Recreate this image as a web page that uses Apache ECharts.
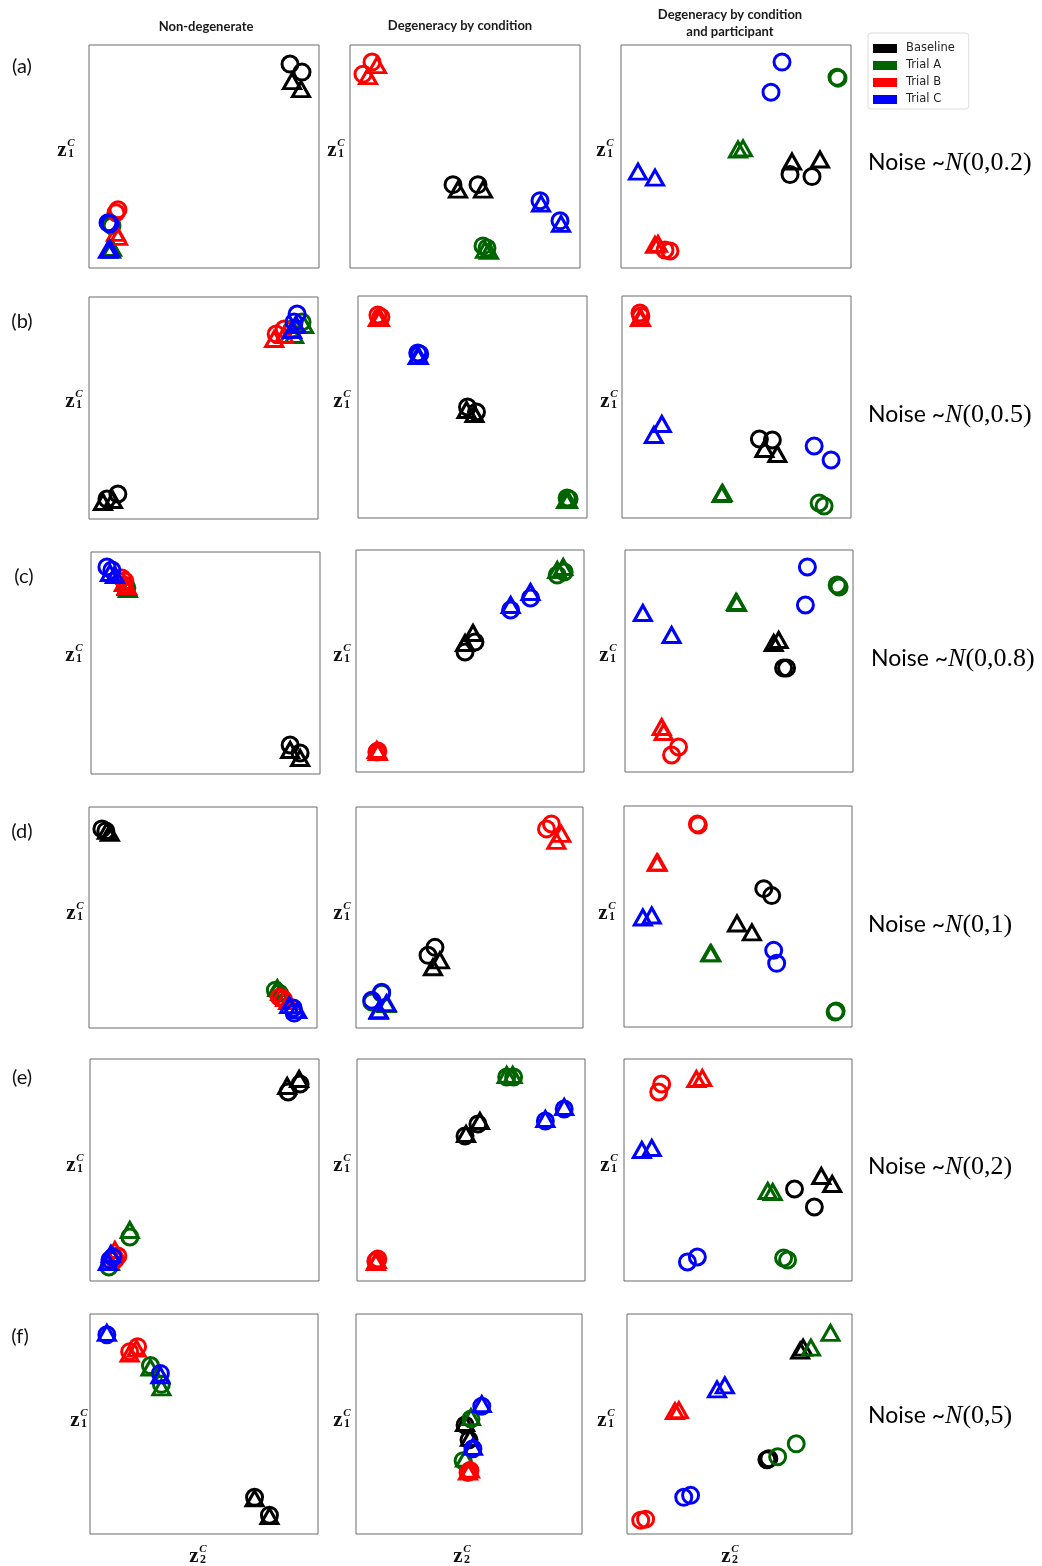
<!DOCTYPE html>
<html><head><meta charset="utf-8">
<script src="https://cdn.jsdelivr.net/npm/echarts@6/dist/echarts.min.js"></script>
<style>html,body{margin:0;padding:0;background:#fff}#c{width:1042px;height:1566px}</style>
</head><body><div id="c"></div>
<script>
// ---------- data ----------
const conditions = ['Baseline', 'Trial A', 'Trial B', 'Trial C'];
const colors = ['#000000', '#006400', '#ff0000', '#0000ff'];
const columnTitles = ['Non-degenerate', 'Degeneracy by condition', 'Degeneracy by condition\nand participant'];
const rowLabels = ['(a)', '(b)', '(c)', '(d)', '(e)', '(f)'];
const noiseParams = ['0,0.2', '0,0.5', '0,0.8', '0,1', '0,2', '0,5'];
// each point: [condition index, shape ('o' circle, '^' triangle), z2, z1]
const a1 = [[0,'o',201,203],[0,'o',213,195],[0,'^',203,186],[0,'^',212,178],[1,'o',23,42],[1,'o',22,44],[1,'^',22,18],[1,'^',23,20],[2,'o',29,58],[2,'o',27,55],[2,'^',29,31],[2,'^',27,35],[3,'o',19,45],[3,'o',21,44],[3,'^',19,18],[3,'^',21,19]];
const a2 = [[0,'o',103,83],[0,'o',128,83],[0,'^',108,78],[0,'^',133,78],[1,'o',133,22],[1,'o',137,20],[1,'^',135,18],[1,'^',139,17],[2,'o',22,205],[2,'o',13,193],[2,'^',27,202],[2,'^',18,191],[3,'o',190,67],[3,'o',210,47],[3,'^',191,64],[3,'^',211,44]];
const a3 = [[0,'o',169,93],[0,'o',191,91],[0,'^',171,106],[0,'^',199,108],[1,'o',216,190],[1,'o',217,189],[1,'^',117,118],[1,'^',122,119],[2,'o',44,18],[2,'o',49,17],[2,'^',34,23],[2,'^',37,24],[3,'o',161,205],[3,'o',150,175],[3,'^',17,96],[3,'^',34,90]];
const b1 = [[0,'o',29,25],[0,'o',18,20],[0,'^',14,17],[0,'^',24,19],[1,'o',204,190],[1,'o',214,197],[1,'^',206,184],[1,'^',216,194],[2,'o',188,185],[2,'o',196,190],[2,'^',186,180],[2,'^',196,184],[3,'o',209,205],[3,'o',206,197],[3,'^',208,194],[3,'^',204,189]];
const b2 = [[0,'o',110,111],[0,'o',119,106],[0,'^',109,108],[0,'^',117,104],[1,'o',210,20],[1,'o',212,19],[1,'^',209,18],[1,'^',211,18],[2,'o',20,203],[2,'o',23,201],[2,'^',20,200],[2,'^',22,200],[3,'o',60,165],[3,'o',62,164],[3,'^',60,162],[3,'^',61,162]];
const b3 = [[0,'o',138,79],[0,'o',151,78],[0,'^',143,69],[0,'^',156,64],[1,'o',198,15],[1,'o',203,12],[1,'^',100,24],[1,'^',101,25],[2,'o',18,205],[2,'o',19,202],[2,'^',18,200],[2,'^',19,200],[3,'o',193,72],[3,'o',210,58],[3,'^',40,94],[3,'^',32,83]];
const c1 = [[0,'o',200,29],[0,'o',210,21],[0,'^',200,24],[0,'^',210,16],[1,'o',36,186],[1,'o',35,188],[1,'^',37,185],[1,'^',36,187],[2,'o',31,196],[2,'o',34,193],[2,'^',33,191],[2,'^',36,188],[3,'o',16,207],[3,'o',21,204],[3,'^',19,201],[3,'^',24,199]];
const c2 = [[0,'o',110,120],[0,'o',120,130],[0,'^',110,129],[0,'^',118,139],[1,'o',203,197],[1,'o',210,200],[1,'^',203,202],[1,'^',209,205],[2,'o',21,20],[2,'o',22,21],[2,'^',21,22],[2,'^',22,20],[3,'o',156,162],[3,'o',176,174],[3,'^',156,167],[3,'^',176,180]];
const c3 = [[0,'o',160,104],[0,'o',163,104],[0,'^',150,129],[0,'^',155,132],[1,'o',216,185],[1,'o',214,187],[1,'^',113,169],[1,'^',112,170],[2,'o',54,25],[2,'o',47,17],[2,'^',37,45],[2,'^',39,40],[3,'o',184,205],[3,'o',182,167],[3,'^',18,159],[3,'^',47,137]];
const d1 = [[0,'o',13,200],[0,'o',17,198],[0,'^',18,198],[0,'^',21,196],[1,'o',188,38],[1,'o',192,35],[1,'^',190,40],[1,'^',193,36],[2,'o',192,31],[2,'o',196,29],[2,'^',198,30],[2,'^',201,27],[3,'o',206,20],[3,'o',207,15],[3,'^',202,23],[3,'^',210,18]];
const d2 = [[0,'o',73,73],[0,'o',80,81],[0,'^',78,61],[0,'^',85,68],[1,'o',16,26],[1,'o',26,35],[1,'^',23,17],[1,'^',31,24],[2,'o',198,205],[2,'o',193,200],[2,'^',208,195],[2,'^',203,188],[3,'o',16,28],[3,'o',26,36],[3,'^',23,18],[3,'^',31,25]];
const d3 = [[0,'o',141,139],[0,'o',149,132],[0,'^',114,104],[0,'^',129,95],[1,'o',213,15],[1,'o',214,16],[1,'^',87,74],[1,'^',88,74],[2,'o',74,204],[2,'o',75,203],[2,'^',33,165],[2,'^',34,165],[3,'o',151,77],[3,'o',154,64],[3,'^',19,110],[3,'^',28,112]];
const e1 = [[0,'o',199,189],[0,'o',211,197],[0,'^',198,195],[0,'^',210,202],[1,'o',40,44],[1,'o',19,14],[1,'^',40,51],[1,'^',20,19],[2,'o',28,25],[2,'o',25,21],[2,'^',25,31],[2,'^',22,26],[3,'o',20,21],[3,'o',23,24],[3,'^',21,27],[3,'^',18,19]];
const e2 = [[0,'o',109,145],[0,'o',122,157],[0,'^',110,147],[0,'^',124,160],[1,'o',151,204],[1,'o',158,204],[1,'^',151,206],[1,'^',157,206],[2,'o',19,20],[2,'o',21,22],[2,'^',19,19],[2,'^',20,21],[3,'o',190,160],[3,'o',209,172],[3,'^',190,162],[3,'^',209,174]];
const e3 = [[0,'o',172,92],[0,'o',192,74],[0,'^',199,105],[0,'^',210,97],[1,'o',161,23],[1,'o',165,21],[1,'^',145,90],[1,'^',150,89],[2,'o',38,197],[2,'o',35,189],[2,'^',73,202],[2,'^',79,203],[3,'o',64,19],[3,'o',74,24],[3,'^',18,131],[3,'^',28,133]];
const f1 = [[0,'o',166,37],[0,'o',181,19],[0,'^',166,36],[0,'^',181,18],[1,'o',61,170],[1,'o',72,151],[1,'^',61,168],[1,'^',72,148],[2,'o',40,184],[2,'o',48,189],[2,'^',40,182],[2,'^',47,187],[3,'o',17,201],[3,'o',71,162],[3,'^',17,203],[3,'^',71,160]];
const f2 = [[0,'o',111,110],[0,'o',115,95],[0,'^',111,112],[0,'^',116,97],[1,'o',117,116],[1,'o',109,74],[1,'^',117,118],[1,'^',111,76],[2,'o',114,62],[2,'o',116,64],[2,'^',114,63],[2,'^',116,65],[3,'o',128,129],[3,'o',119,86],[3,'^',128,131],[3,'^',119,88]];
const f3 = [[0,'o',143,75],[0,'o',145,76],[0,'^',177,185],[0,'^',180,188],[1,'o',154,78],[1,'o',173,91],[1,'^',208,203],[1,'^',188,188],[2,'o',14,14],[2,'o',19,15],[2,'^',49,124],[2,'^',53,125],[3,'o',58,37],[3,'o',65,39],[3,'^',92,146],[3,'^',100,150]];
const panels = [a1, a2, a3, b1, b2, b3, c1, c2, c3, d1, d2, d3, e1, e2, e3, f1, f2, f3];

// ---------- layout ----------
const boxes = [
  [89,45,230,223],[350,45,230,223],[621,45,230,223],
  [89,297,229,222],[358,296,229,222],[622,296,229,222],
  [91,552,229,222],[356,550,228,222],[625,550,228,222],
  [89,807,228,221],[356,807,227,221],[624,806,228,221],
  [90,1059,229,222],[357,1059,228,222],[624,1059,228,222],
  [90,1314,228,220],[356,1314,226,220],[627,1314,225,220]
];
const yLabelPos = [
  [65,148],[335,148],[604,148],
  [73,399],[341,399],[608,399],
  [73,653],[341,653],[607,653],
  [74,911],[341,911],[606,911],
  [74,1163],[341,1163],[608,1163],
  [78,1418],[341,1418],[605,1418]
];
const xLabelPos = [[197,1554],[461,1554],[729,1554]];
const rowLabelPos = [[22,67],[22,322],[24,577],[22,832],[22,1078],[20,1337]];
const noisePos = [[868,163],[868,415],[871,659],[868,925],[868,1167],[868,1416]];
const titlePos = [[206,27],[460,26],[730,23]];

const grids = [], xAxes = [], yAxes = [], series = [];
panels.forEach((pts, i) => {
  const b = boxes[i];
  grids.push({left: b[0], top: b[1], width: b[2], height: b[3], show: true,
    borderColor: '#6a6a6a', borderWidth: 1, backgroundColor: 'transparent'});
  xAxes.push({type: 'value', gridIndex: i, min: 0, max: 230, show: false});
  yAxes.push({type: 'value', gridIndex: i, min: 0, max: 222, show: false});
  conditions.forEach((name, c) => {
    ['o', '^'].forEach(shape => {
      const data = pts.filter(p => p[0] === c && p[1] === shape).map(p => [p[2], p[3]]);
      series.push({
        type: 'scatter', name, xAxisIndex: i, yAxisIndex: i, data,
        symbol: shape === 'o' ? 'circle' : 'triangle',
        symbolSize: shape === 'o' ? 16 : [17, 15],
        clip: false, silent: true, animation: false,
        itemStyle: {color: 'rgba(0,0,0,0)', borderColor: colors[c], borderWidth: 3, opacity: 1},
        emphasis: {disabled: true}
      });
    });
  });
});

const graphics = [];
function zLabel(cx, cy, sub) {
  graphics.push({type: 'text', silent: true, style: {text: 'z', x: cx - 3, y: cy + 2.5,
    font: 'bold 21px "Liberation Serif"', fill: '#111', align: 'center', verticalAlign: 'middle'}});
  graphics.push({type: 'text', silent: true, style: {text: 'C', x: cx + 6, y: cy - 4.5,
    font: 'italic bold 11px "Liberation Serif"', fill: '#111', align: 'center', verticalAlign: 'middle'}});
  graphics.push({type: 'text', silent: true, style: {text: sub, x: cx + 6, y: cy + 5.5,
    font: 'bold 12px "Liberation Serif"', fill: '#111', align: 'center', verticalAlign: 'middle'}});
}
yLabelPos.forEach(p => zLabel(p[0], p[1], '1'));
xLabelPos.forEach(p => zLabel(p[0], p[1], '2'));
columnTitles.forEach((t, i) => {
  graphics.push({type: 'text', silent: true, style: {text: t, x: titlePos[i][0], y: titlePos[i][1],
    font: 'bold 13px Lato', fill: '#1a1a1a', align: 'center', verticalAlign: 'middle', lineHeight: 17}});
});
rowLabels.forEach((t, i) => {
  graphics.push({type: 'text', silent: true, style: {text: t, x: rowLabelPos[i][0], y: rowLabelPos[i][1],
    font: '20px Lato', fill: '#111', align: 'center', verticalAlign: 'middle'}});
});
noiseParams.forEach((t, i) => {
  graphics.push({type: 'text', silent: true, style: {
    text: '{a|Noise ~}{n|N}{b|(' + t + ')}', x: noisePos[i][0], y: noisePos[i][1], verticalAlign: 'middle',
    rich: {
      a: {fontFamily: 'Lato', fontSize: 23, color: '#111'},
      n: {fontFamily: 'Liberation Serif', fontStyle: 'italic', fontSize: 26, color: '#111'},
      b: {fontFamily: 'Liberation Serif', fontSize: 26, color: '#111'}
    }}});
});

const chart = echarts.init(document.getElementById('c'), null, {renderer: 'canvas'});
chart.setOption({
  animation: false,
  backgroundColor: '#ffffff',
  grid: grids, xAxis: xAxes, yAxis: yAxes, series,
  legend: {
    left: 868, top: 33, orient: 'vertical', selectedMode: false,
    data: conditions.map((n, i) => ({name: n, icon: 'rect', itemStyle: {color: colors[i], borderWidth: 0}})),
    itemWidth: 24, itemHeight: 9, itemGap: 4,
    padding: [9, 14, 3, 5], borderColor: '#dddddd', borderWidth: 1, borderRadius: 3,
    textStyle: {fontFamily: 'DejaVu Sans', fontSize: 11.5, color: '#222', lineHeight: 13, padding: [0, 0, 0, 4]}
  },
  graphic: graphics
});
</script></body></html>
